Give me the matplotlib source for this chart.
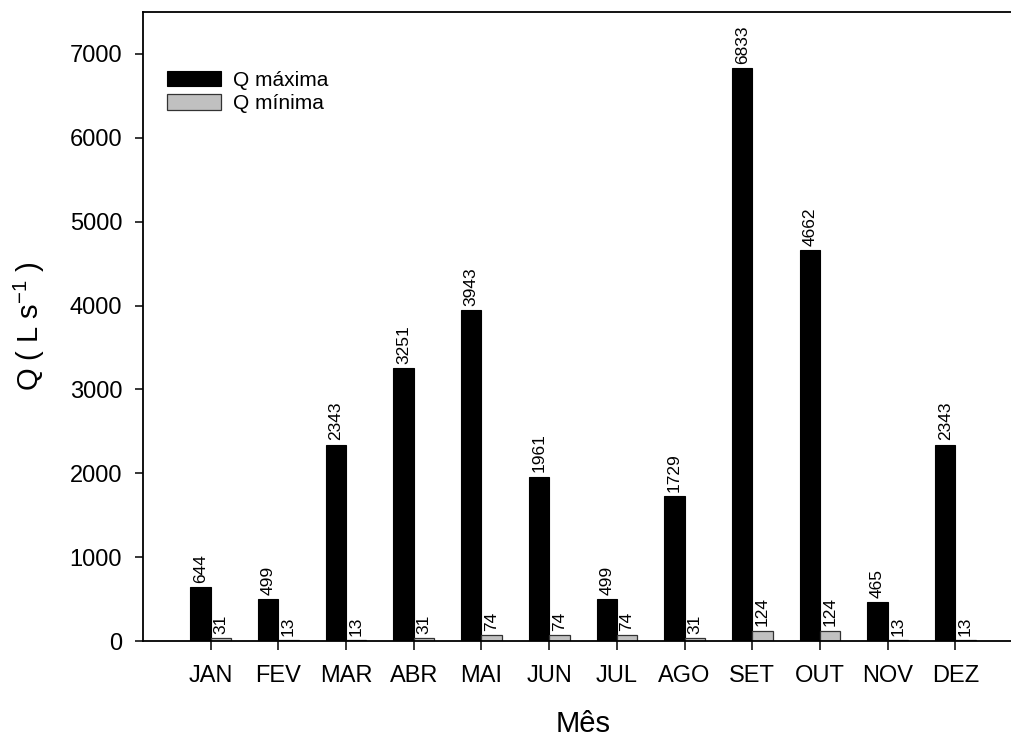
import matplotlib
matplotlib.use("Agg")
import matplotlib.pyplot as plt
import numpy as np

plt.rcParams['font.family'] = ['Liberation Sans', 'DejaVu Sans']

# monthly discharge data
months = ['JAN', 'FEV', 'MAR', 'ABR', 'MAI', 'JUN', 'JUL', 'AGO', 'SET', 'OUT', 'NOV', 'DEZ']
q_max = [644, 499, 2343, 3251, 3943, 1961, 499, 1729, 6833, 4662, 465, 2343]
q_min = [31, 13, 13, 31, 74, 74, 74, 31, 124, 124, 13, 13]

fig = plt.figure(figsize=(10.11, 7.38), dpi=100)
ax = fig.add_axes([0.1414, 0.1314, 0.8706, 0.8523])

x = np.arange(1, len(months) + 1)
w = 0.30
ax.bar(x - w / 2, q_max, width=w, color='black', edgecolor='black', linewidth=0.8, label='Q máxima')
ax.bar(x + w / 2, q_min, width=w, color='#c0c0c0', edgecolor='#333333', linewidth=0.9, label='Q mínima')

# value labels above bars
for xi, v in zip(x - w / 2, q_max):
    ax.annotate(str(v), (xi, v), xytext=(0, 3), textcoords='offset points',
                rotation=90, ha='center', va='bottom', fontsize=12.5)
for xi, v in zip(x + w / 2, q_min):
    ax.annotate(str(v), (xi, v), xytext=(0, 3), textcoords='offset points',
                rotation=90, ha='center', va='bottom', fontsize=12.5)

ax.set_xlim(0, 13)
ax.set_ylim(0, 7500)
ax.set_xticks(x)
ax.set_xticklabels(months, fontsize=17)
ax.set_yticks(np.arange(0, 7001, 1000))
ax.tick_params(axis='y', labelsize=17, direction='out', length=6, width=1.1, pad=9)
ax.tick_params(axis='x', direction='out', length=6.5, width=1.1, pad=11)
ax.spines['right'].set_visible(False)
for s in ['top', 'left', 'bottom']:
    ax.spines[s].set_linewidth(1.3)

ax.set_xlabel('Mês', fontsize=21, labelpad=16)
ax.set_ylabel('Q ( L s$^{\\mathregular{-1}}$ )', fontsize=21, labelpad=16)

ax.legend(loc='upper left', bbox_to_anchor=(0.027, 0.907), frameon=False, fontsize=15,
          handlelength=2.6, handleheight=0.8, handletextpad=0.6, labelspacing=0.2,
          borderaxespad=0, borderpad=0)

fig.savefig('out.png', dpi=100)
